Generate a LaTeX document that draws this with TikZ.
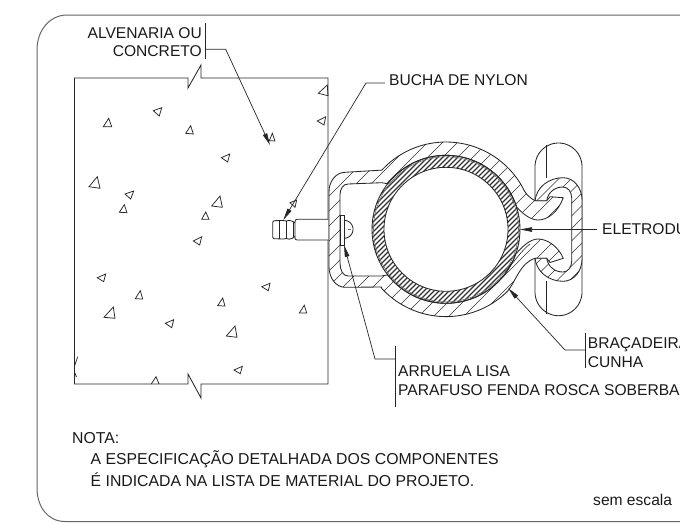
\documentclass[tikz,border=0pt]{standalone}
\usepackage{fontspec}
\setmainfont{Liberation Sans}
\usetikzlibrary{arrows.meta}
\tikzset{
  line/.style={line width=0.85pt,draw=black!85},
  frameline/.style={line width=1pt,draw=black!60},
  thin line/.style={line width=0.6pt,draw=black!85},
  leader/.style={line width=0.7pt,draw=black!85},
  arrowed/.style={leader,-{Stealth[length=12pt,width=4.5pt,inset=0pt]}},
  label/.style={inner sep=0pt,font=\fontsize{15.6pt}{16pt}\selectfont,text=black!90},
  notelabel/.style={label,font=\fontsize{15.8pt}{16pt}\selectfont},
  hatchline/.style={line width=0.65pt,draw=black!80},
  tri/.style={line width=0.75pt,draw=black!85,line join=miter}
}
\def\bandpath{(525,191.7)
  -- plot[domain=-25.4:-137.3,samples=50] ({446+87.3*cos(\x)},{229.3+87.3*sin(\x)})
  -- (345,172.3) .. controls (336,172.5) and (329,181) .. (329,191.7)
  -- (329,266.7) .. controls (329,278) and (336,287.3) .. (345,287.3)
  -- (381.7,287)
  -- plot[domain=138:45,samples=50] ({446+87.3*cos(\x)},{229.3+87.3*sin(\x)})
  .. controls (516,281) and (520,263) .. (535,258.3)
  -- (546.7,258.3) -- (550,262.5) -- (563.3,258.3)
  .. controls (558,246) and (547,239) .. (538,239)
  .. controls (530,239) and (522,247) .. (516.7,253)
  -- plot[domain=18.6:142,samples=50] ({446+74*cos(\x)},{229.3+74*sin(\x)})
  -- (381.7,276) -- (348,276) .. controls (343,276) and (340,270) .. (340,263)
  -- (340,195) .. controls (340,189) and (343,184) .. (348,184)
  -- (381.7,182.7)
  -- plot[domain=-142:-17.7,samples=50] ({446+74*cos(\x)},{229.3+74*sin(\x)})
  .. controls (522,213) and (530,220) .. (538,220)
  .. controls (548,220) and (558,212) .. (563.3,197.7)
  -- (550,196.7) -- (546.7,200.7) -- (535,200.7)
  .. controls (530,198) and (527,195) .. (525,191.7) -- cycle}
\def\wedgepath{(535,200.7) .. controls (536.5,187) and (549,177.7) .. (563,177.7)
  .. controls (574,177.7) and (582,188) .. (582,200) -- (582,259)
  .. controls (582,271) and (574,281.3) .. (563,281.3)
  .. controls (549,281.3) and (536.5,272) .. (535,258.3) -- (546.7,258.3)
  .. controls (548,267) and (555,272) .. (563,272)
  .. controls (568,272) and (571.7,267) .. (571.7,261) -- (571.7,198)
  .. controls (571.7,192) and (568,187) .. (563,187)
  .. controls (555,187) and (548,192) .. (546.7,200.7) -- cycle}
\begin{document}
\begin{tikzpicture}[x=1pt,y=-1pt]
\useasboundingbox (0,0) rectangle (680,523);
\clip (0,0) rectangle (680,523);
% frame
\draw[frameline] (690,15) -- (67,15) .. controls (50,15) and (37,30) .. (37,50)
  -- (37,488) .. controls (37,507) and (48,521.5) .. (65,521.5) -- (690,521.5);
% wall
\draw[line] (201,78) -- (328,78) -- (328,384) -- (201,384) -- (201,398) -- (188,374) -- (188,384)
  -- (74.5,384) -- (74.5,78) -- (188,78) -- (188,88) -- (201,65) -- cycle;
% aggregate
\foreach \a/\b/\c in {
 {318.3,93.3}/{327.3,85}/{328,95.7},
 {317.3,121}/{325.7,116.7}/{324,125},
 {153.3,110.7}/{161.7,107.7}/{159.3,116},
 {103.3,126.7}/{108.7,118.3}/{111.7,126.7},
 {185.7,133.3}/{190.7,125.7}/{193.3,134},
 {269.3,140.7}/{272.3,133.3}/{275,141},
 {221.3,157.7}/{229.7,154}/{227.7,162},
 {89,186.7}/{97.3,176.7}/{100,188.3},
 {125,194}/{133.7,191}/{130.7,199},
 {211.7,206}/{220,196}/{222.3,207.3},
 {290,202.7}/{296.7,200}/{295,207.3},
 {119.3,212.3}/{124.3,204.7}/{127,212.7},
 {201.7,219.3}/{205.7,212}/{209,219.3},
 {193.3,241}/{201.7,236.7}/{199.7,245},
 {97.3,277.7}/{105.7,274}/{103.7,281.7},
 {135.3,298.7}/{140.3,290.7}/{142.7,299},
 {104,317.3}/{113.3,307}/{115,318.3},
 {165.3,323.3}/{173.7,319.7}/{171.7,327.7},
 {217.7,305.7}/{222.7,298}/{225,306},
 {261.7,286.7}/{270,283.3}/{268.3,290.7},
 {299.3,313}/{304.3,305.3}/{306.7,313},
 {226.3,336}/{235,326}/{237,337.3},
 {234,370}/{242.3,366.3}/{240.3,373.7}}
 {\draw[tri] (\a) -- (\b) -- (\c) -- cycle;}
\draw[tri] (151.3,384) -- (156,376.7) -- (159,384);
\draw[tri] (74.5,366) -- (77.7,356.7);
\draw[tri] (74.5,372) -- (76.5,377);
% anchor body and nylon plug
\draw[line,fill=white] (328.3,219.3) -- (297,219.3) .. controls (295.5,219.3) and (295,220.5) .. (295,222)
  -- (295,237.5) .. controls (295,239) and (295.5,240) .. (297,240) -- (328.3,240);
\draw[line] (295,223) -- (293,221.5) .. controls (290,220) and (288,220) .. (286.5,221)
  -- (283,220.5) -- (274,220.7) -- (272.7,222) -- (272.7,237.5) -- (274,238.7) -- (283,239) -- (286.5,238.5)
  .. controls (288,239.5) and (290,239.5) .. (293,238) -- (295,236.5);
\draw[thin line] (279,220.8) -- (279,238.8) (286.5,221) -- (286.5,238.5) (293,221.5) -- (293,238);
% capsule behind the wedge
\draw[line,fill=white] (535,200.7) -- plot[domain=-180:0,samples=40] ({558.5+23.5*cos(\x)},{166.7+23.7*sin(\x)})
  -- plot[domain=0:180,samples=40] ({558.5+23.5*cos(\x)},{292+23.7*sin(\x)}) -- (535,258.3);
\draw[line] (546.3,145) -- (546.3,178) (546.3,281) -- (546.3,314);
% clamp band
\begin{scope}
  \clip \bandpath;
  \fill[white] (320,130) rectangle (600,330);
  \foreach \c in {480,495,...,920}
    {\draw[hatchline] (300,\c-300) -- (600,\c-600);}
\end{scope}
\draw[line,line join=round] \bandpath;
\draw[thin line] (530,244) .. controls (522,250) and (514,262) .. (505,272);
% wedge
\begin{scope}
  \clip \wedgepath;
  \fill[white] (530,170) rectangle (590,290);
  \foreach \c in {700,712.5,...,880}
    {\draw[hatchline] (500,\c-500) -- (600,\c-600);}
\end{scope}
\draw[line,line join=round] \wedgepath;
% conduit
\begin{scope}
  \clip (446,229.3) circle[radius=74];
  \foreach \c in {540,545,...,820}
    {\draw[hatchline,line width=1.1pt] (360,\c-360) -- (530,\c-530);}
\end{scope}
\draw[line,fill=white] (446,229.3) circle[radius=62];
\draw[line] (446,229.3) circle[radius=74];
\draw[thin line,black!55] (446,229.3) circle[radius=72.5];
% washer and screw head
\draw[line,fill=white] (340,215) rectangle (344,245);
\draw[line] plot[domain=-90:90,samples=30] ({344+9*cos(\x)},{229.3+9*sin(\x)});
\draw[line width=1.4pt,black!60] (347.5,229.3) -- (350.5,229.3);
% labels
\node[label,anchor=base east] (alv1) at (202,38.3) {ALVENARIA OU};
\node[label,anchor=base east] (alv2) at (202,56.7) {CONCRETO};
\node[label,anchor=base west] (bucha) at (389,85) {BUCHA DE NYLON};
\node[label,anchor=base west] (eletro) at (602,234) {ELETRODU};
\node[label,anchor=base west] (braca) at (587.7,348) {BRAÇADEIRA};
\node[label,anchor=base west] (cunha) at (587.7,367) {CUNHA};
\node[label,anchor=base west] (arruela) at (398,376.7) {ARRUELA LISA};
\node[label,anchor=base west] (parafuso) at (398,395) {PARAFUSO FENDA ROSCA SOBERBA};
\node[notelabel,anchor=base west] (nota) at (72,443) {NOTA:};
\node[notelabel,anchor=base west] (nota1) at (90.5,464) {A ESPECIFICAÇÃO DETALHADA DOS COMPONENTES};
\node[notelabel,anchor=base west] (nota2) at (90.5,486) {É INDICADA NA LISTA DE MATERIAL DO PROJETO.};
\node[label,anchor=base west] (esc) at (593,505) {sem escala};
% leaders
\coordinate (alvT) at (205.3,23); \coordinate (alvB) at (205.3,59);
\coordinate (alvM) at (205.3,49.3); \coordinate (alvE) at (225.7,49.3); \coordinate (alvTip) at (270,145);
\draw[leader] (alvT) -- (alvB);
\draw[arrowed] (alvM) -- (alvE) -- (alvTip);
\coordinate (buE) at (385,83); \coordinate (buM) at (366,83); \coordinate (buTip) at (283.3,220);
\draw[arrowed] (buE) -- (buM) -- (buTip);
\coordinate (elE) at (597,229.5); \coordinate (elTip) at (520,229.5);
\draw[arrowed] (elE) -- (elTip);
\coordinate (brT) at (585.7,333); \coordinate (brB) at (585.7,367.7);
\coordinate (brM) at (585.7,350); \coordinate (brE) at (565,350); \coordinate (brTip) at (508.3,288.3);
\draw[leader] (brT) -- (brB);
\draw[arrowed] (brM) -- (brE) -- (brTip);
\coordinate (arT) at (395,345.7); \coordinate (arB) at (395,406.7);
\coordinate (arM) at (395,359); \coordinate (arE) at (375,359); \coordinate (arTip) at (344,245);
\draw[leader] (arT) -- (arB);
\draw[arrowed] (arM) -- (arE) -- (arTip);
\end{tikzpicture}
\end{document}
